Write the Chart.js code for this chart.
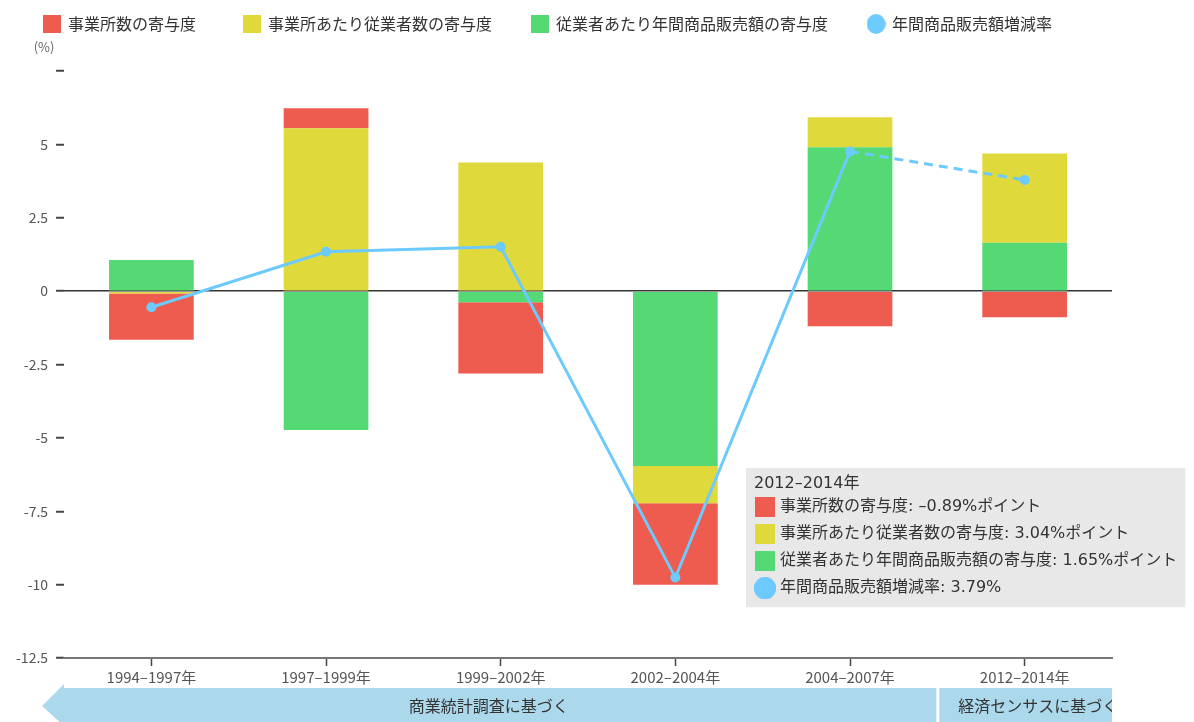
<!DOCTYPE html>
<html>
<head>
    <meta charset="utf-8">
    <title>年間商品販売額増減率の要因分解</title>
    <script src="https://cdn.jsdelivr.net/npm/chart.js"></script>
    <style>
        html, body { margin: 0; padding: 0; background: #fff; }
        #wrap { width: 1194px; height: 722px; }
    </style>
</head>
<body>
    <div id="wrap"><canvas id="decompChart" width="1194" height="722"></canvas></div>
    <script>
        // data (%)
        const periods = ['1994–1997年', '1997–1999年', '1999–2002年', '2002–2004年', '2004–2007年', '2012–2014年'];
        const establishments = [-1.58, 0.68, -2.43, -2.77, -1.20, -0.89];   // 事業所数の寄与度
        const workersPerEst = [-0.08, 5.55, 4.38, -1.27, 1.02, 3.04];      // 事業所あたり従業者数の寄与度
        const salesPerWorker = [1.06, -4.73, -0.38, -5.96, 4.90, 1.65];    // 従業者あたり年間商品販売額の寄与度
        const salesGrowth = [-0.55, 1.34, 1.51, -9.76, 4.76, 3.79];        // 年間商品販売額増減率
        const sourceBands = ['商業統計調査に基づく', '経済センサスに基づく'];

        const FONT = '"Noto Sans CJK JP", "Noto Sans", sans-serif';
        const TIP_FONT = '"DejaVu Sans", "Noto Sans CJK JP", sans-serif';
        const RED = '#ee5b4f', YELLOW = '#e0d93b', GREEN = '#55d975', BLUE = '#6dcaff';

        // little swatches for legend / tooltip markers
        function swatch(color, w, h, round) {
            const c = document.createElement('canvas');
            c.width = w; c.height = h;
            const g = c.getContext('2d');
            g.fillStyle = color;
            if (round) {
                g.beginPath();
                g.ellipse(w / 2, h / 2, w / 2, h / 2, 0, 0, Math.PI * 2);
                g.fill();
            } else {
                g.fillRect(0, 0, w, h);
            }
            return c;
        }
        const legendMarks = [swatch(GREEN, 18, 18), swatch(YELLOW, 18, 18), swatch(RED, 18, 18), swatch(BLUE, 19, 20, true)];
        const tipMarks = [swatch(GREEN, 20, 20), swatch(YELLOW, 20, 20), swatch(RED, 20, 20), swatch(BLUE, 22, 22, true)];
        // datasets are in stacking order (green nearest zero); legend/tooltip show red, yellow, green, line
        const displayRank = [2, 1, 0, 3];

        const fmt = v => (v < 0 ? '–' + Math.abs(v).toFixed(2) : v.toFixed(2));

        Chart.Tooltip.positioners.lowerRight = function () {
            const area = this.chart.chartArea;
            return { x: area.right - 366, y: area.top + 397, xAlign: 'left', yAlign: 'top' };
        };

        const extras = {
            id: 'extras',
            beforeLayout(chart) {
                if (chart.legend && !chart.legend._padded) {
                    const fit = chart.legend.fit;
                    chart.legend.fit = function () { fit.call(this); this.height += 29; };
                    chart.legend._padded = true;
                }
            },
            afterDraw(chart) {
                const ctx = chart.ctx;
                const area = chart.chartArea;
                const x = chart.scales.x;
                ctx.save();
                // unit label
                ctx.font = '13px ' + FONT;
                ctx.fillStyle = '#666';
                ctx.textAlign = 'center';
                ctx.textBaseline = 'middle';
                ctx.fillText('(%)', area.left - 20, area.top - 24);

                // source band with arrow head
                const top = 688, bottom = 722, mid = (top + bottom) / 2;
                const split = x.getPixelForValue(4.5);
                ctx.fillStyle = '#acd8ec';
                ctx.beginPath();
                ctx.moveTo(area.left - 22, mid + 1);
                ctx.lineTo(area.left, top - 4);
                ctx.lineTo(area.left, top);
                ctx.lineTo(area.right, top);
                ctx.lineTo(area.right, bottom);
                ctx.lineTo(area.left, bottom);
                ctx.lineTo(area.left, bottom + 4);
                ctx.closePath();
                ctx.fill();
                ctx.fillStyle = '#fff';
                ctx.fillRect(split - 1, top, 3, bottom - top);

                ctx.font = '16px ' + FONT;
                ctx.fillStyle = '#333';
                ctx.fillText(sourceBands[0], (area.left + split) / 2 - 12, mid + 1);
                ctx.beginPath();
                ctx.rect(split + 2, top, area.right - split - 2, bottom - top);
                ctx.clip();
                ctx.textAlign = 'left';
                ctx.fillText(sourceBands[1], split + 21, mid + 1);
                ctx.restore();
            }
        };

        const barCommon = { categoryPercentage: 1, barPercentage: 0.485, borderWidth: 0 };

        const chart = new Chart(document.getElementById('decompChart'), {
            type: 'bar',
            data: {
                labels: periods,
                datasets: [
                    { label: '従業者あたり年間商品販売額の寄与度', data: salesPerWorker, backgroundColor: GREEN, ...barCommon },
                    { label: '事業所あたり従業者数の寄与度', data: workersPerEst, backgroundColor: YELLOW, ...barCommon },
                    { label: '事業所数の寄与度', data: establishments, backgroundColor: RED, ...barCommon },
                    {
                        type: 'line',
                        label: '年間商品販売額増減率',
                        data: salesGrowth,
                        order: -1,
                        borderColor: BLUE,
                        backgroundColor: BLUE,
                        borderWidth: 3,
                        pointRadius: 5,
                        pointHoverRadius: 5,
                        pointBorderWidth: 0,
                        segment: {
                            borderDash: c => (c.p1DataIndex === 5 ? [9, 6] : undefined)
                        }
                    }
                ]
            },
            options: {
                responsive: false,
                animation: false,
                events: [],
                layout: { padding: { left: 8, right: 82, top: 0, bottom: 34 } },
                scales: {
                    x: {
                        stacked: true,
                        border: { color: '#777', width: 2 },
                        grid: { offset: false, drawOnChartArea: false, tickLength: 8, tickColor: '#444', tickWidth: 1.5 },
                        ticks: { color: '#555', font: { family: FONT, size: 15 }, padding: 2 }
                    },
                    y: {
                        stacked: true,
                        min: -12.5,
                        max: 7.5,
                        border: { display: false },
                        grid: {
                            color: c => (c.tick && c.tick.value === 0 ? '#333' : 'rgba(0,0,0,0)'),
                            lineWidth: 1.5,
                            tickLength: 8,
                            tickColor: '#444',
                            tickWidth: 2
                        },
                        ticks: {
                            stepSize: 2.5,
                            color: '#555',
                            font: { family: FONT, size: 14 },
                            padding: 8,
                            callback: v => (v === 7.5 ? '' : String(v))
                        }
                    }
                },
                plugins: {
                    legend: {
                        position: 'top',
                        labels: {
                            usePointStyle: true,
                            color: '#333',
                            font: { family: FONT, size: 16 },
                            padding: 16,
                            sort: (a, b) => displayRank[a.datasetIndex] - displayRank[b.datasetIndex],
                            generateLabels(ch) {
                                const items = Chart.defaults.plugins.legend.labels.generateLabels(ch);
                                items.forEach(it => {
                                    it.pointStyle = legendMarks[it.datasetIndex];
                                    it.lineWidth = 0;
                                    if (it.datasetIndex === 2) it.text = it.text + '\u2003\u2003';
                                    else if (it.datasetIndex === 3) it.text = it.text + '\u2003\u2002';
                                    else it.text = it.text + '\u2003\u2002';
                                });
                                return items;
                            }
                        }
                    },
                    tooltip: {
                        mode: 'index',
                        intersect: false,
                        position: 'lowerRight',
                        backgroundColor: 'rgba(229,229,229,0.88)',
                        titleColor: '#333',
                        bodyColor: '#333',
                        titleFont: { family: TIP_FONT, size: 16, weight: 'normal' },
                        bodyFont: { family: TIP_FONT, size: 16 },
                        titleMarginBottom: 3,
                        bodySpacing: 5,
                        padding: { left: 8, right: 8, top: 6, bottom: 8 },
                        caretSize: 0,
                        caretPadding: 0,
                        cornerRadius: 0,
                        usePointStyle: true,
                        boxWidth: 22,
                        boxHeight: 22,
                        boxPadding: 2,
                        itemSort: (a, b) => displayRank[a.datasetIndex] - displayRank[b.datasetIndex],
                        callbacks: {
                            labelPointStyle: c => ({ pointStyle: tipMarks[c.datasetIndex], rotation: 0 }),
                            label: c => c.dataset.label + ': ' + fmt(c.raw) + (c.dataset.type === 'line' ? '%' : '%ポイント')
                        }
                    }
                }
            },
            plugins: [extras]
        });

        // keep the 2012–2014 tooltip open as in the picture
        chart.tooltip.setActiveElements(
            chart.data.datasets.map((d, i) => ({ datasetIndex: i, index: 5 })),
            { x: 0, y: 0 }
        );
        chart.update();
    </script>
</body>
</html>
